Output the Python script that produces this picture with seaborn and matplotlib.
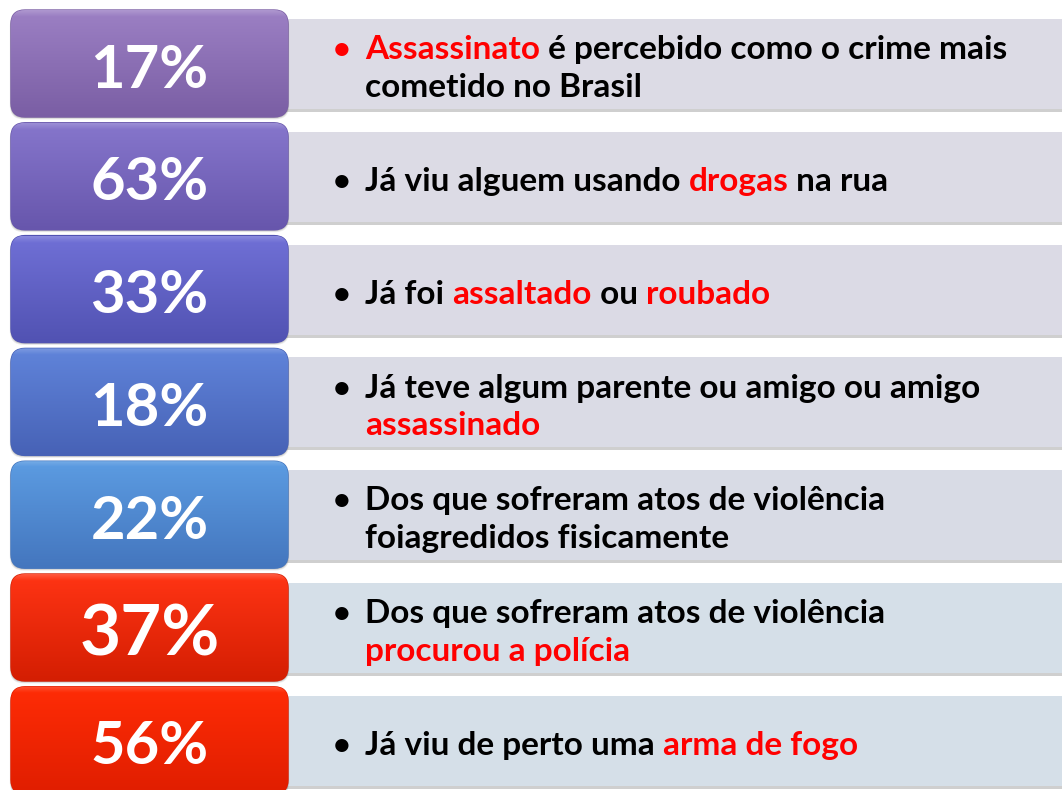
import numpy as np
import matplotlib
matplotlib.use("Agg")
import matplotlib.pyplot as plt
from matplotlib.patches import FancyBboxPatch, Rectangle
from matplotlib.colors import to_rgb
from matplotlib.font_manager import FontProperties
import seaborn as sns

# ---------------- data ----------------
percentages = [17, 63, 33, 18, 22, 37, 56]

# each description: list of lines, each line a list of (text, highlighted)
descriptions = [
    [[("Assassinato", True), (" é percebido como o crime mais", False)],
     [("cometido no Brasil", False)]],
    [[("Já viu alguem usando ", False), ("drogas", True), (" na rua", False)]],
    [[("Já foi ", False), ("assaltado", True), (" ou ", False), ("roubado", True)]],
    [[("Já teve algum parente ou amigo ou amigo", False)],
     [("assassinado", True)]],
    [[("Dos que sofreram atos de violência", False)],
     [("foiagredidos fisicamente", False)]],
    [[("Dos que sofreram atos de violência", False)],
     [("procurou a polícia", True)]],
    [[("Já viu de perto uma ", False), ("arma de fogo", True)]],
]
bullet_highlight = [True, False, False, False, False, False, False]

box_top_colors = ["#9c80c4", "#8676cc", "#7070d6", "#6084da", "#5c9ce2", "#ff3414", "#ff2c06"]
box_bottom_colors = ["#7a5ea4", "#6756ac", "#5152b2", "#4762b6", "#4476be", "#d41e02", "#e01e00"]
panel_colors = ["#dcdbe5", "#dcdbe5", "#dbdae5", "#dadbe5", "#d8dbe5", "#d5dfe8", "#d5dfe8"]

# ---------------- style ----------------
sns.set_theme(style="white")
plt.rcParams["font.family"] = ["Lato", "DejaVu Sans"]

W, H = 1062, 790
fig = plt.figure(figsize=(W / 100, H / 100), dpi=100)
ax = fig.add_axes([0, 0, 1, 1])
ax.set_xlim(0, W)
ax.set_ylim(H, 0)
ax.axis("off")

renderer = fig.canvas.get_renderer()
desc_size = 24
desc_prop = FontProperties(family=["Lato", "DejaVu Sans"], weight="bold", size=desc_size)
bullet_prop = FontProperties(family=["Lato", "DejaVu Sans"], weight="bold", size=22)


def text_width(s):
    w, h, d = renderer.get_text_width_height_descent(s, desc_prop, ismath=False)
    return w


RED = "#ff0000"
pitch = 112.8
box_h = 107
box_x0, box_x1 = 11, 288
text_x0 = 365
bullet_x = 342

for i, (pct, desc) in enumerate(zip(percentages, descriptions)):
    top = 10 + pitch * i
    yc = top + box_h / 2

    # grey panel with shadow
    ax.add_patch(Rectangle((270, top + 12), W, 90, facecolor="#a8a8a8", alpha=0.55,
                           edgecolor="none", zorder=1))
    ax.add_patch(Rectangle((270, top + 9), W, 90, facecolor=panel_colors[i],
                           edgecolor="none", zorder=1.2))

    # box shadow
    for k, a in [(4, 0.10), (2.5, 0.15), (1.2, 0.2)]:
        sh = FancyBboxPatch((box_x0 - k * 0.3, top + k * 0.6), box_x1 - box_x0 + k * 0.6, box_h,
                            boxstyle="round,pad=0,rounding_size=14",
                            facecolor="#404040", alpha=a, edgecolor="none", zorder=2)
        ax.add_patch(sh)

    # box with vertical gradient
    box = FancyBboxPatch((box_x0, top), box_x1 - box_x0, box_h,
                         boxstyle="round,pad=0,rounding_size=14",
                         facecolor=box_top_colors[i], edgecolor=box_bottom_colors[i],
                         linewidth=1.0, zorder=3)
    ax.add_patch(box)
    t = np.linspace(0, 1, 200)[:, None]
    c0 = np.array(to_rgb(box_top_colors[i]))
    c1 = np.array(to_rgb(box_bottom_colors[i]))
    grad = c0[None, None, :] * (1 - t[..., None]) + c1[None, None, :] * t[..., None]
    gloss = np.clip(1 - t / 0.06, 0, 1)[..., None] * 0.18
    grad = np.clip(grad + gloss * (1 - grad), 0, 1)
    grad = np.repeat(grad, 2, axis=1)
    im = ax.imshow(grad, extent=(box_x0, box_x1, top + box_h, top), aspect="auto",
                   origin="upper", zorder=3.1, interpolation="bilinear")
    im.set_clip_path(box)

    # percentage label
    big = (i == 5)
    ax.text((box_x0 + box_x1) / 2, yc + (28 if big else 24), f"{pct}%",
            ha="center", va="baseline", color="white", fontsize=51 if big else 43,
            fontweight="bold", zorder=5)

    # description text
    n = len(desc)
    for k, line in enumerate(desc):
        center = yc + 3.5 + (k - (n - 1) / 2) * 37.5
        base = center + 11
        if k == 0:
            ax.text(bullet_x, base, "•", ha="center", va="baseline",
                    color=RED if bullet_highlight[i] else "black",
                    fontproperties=bullet_prop, zorder=5)
        prefix = ""
        for seg, hl in line:
            x = text_x0 + (text_width(prefix + "x") - text_width("x") if prefix else 0)
            ax.text(x, base, seg, ha="left", va="baseline",
                    color=RED if hl else "black", fontproperties=desc_prop, zorder=5)
            prefix += seg

ax.set_xlim(0, W)
ax.set_ylim(H, 0)
fig.savefig("out.png", dpi=100, facecolor="white")
